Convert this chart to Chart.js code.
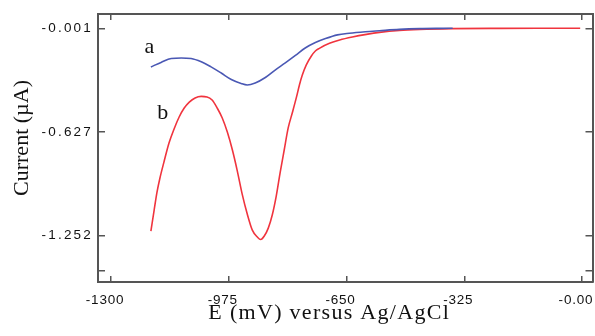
<!DOCTYPE html>
<html><head><meta charset="utf-8">
<script src="https://cdn.jsdelivr.net/npm/chart.js@4.4.1/dist/chart.umd.min.js"></script>
<style>html,body{margin:0;padding:0;background:#fff;overflow:hidden}</style>
</head><body>
<canvas id="c" width="595" height="336"></canvas>
<script>
// ---- data ----
const potentialA = [-1190,-1162,-1134,-1106,-1079,-1051,-1024,-996,-968,-941,-924,-902,-874,-847,-819,-791,-764,-736,-708,-675,-642,-598,-559,-504,-448,-393,-357];
const currentA   = [-0.234,-0.207,-0.183,-0.180,-0.183,-0.203,-0.234,-0.271,-0.310,-0.334,-0.343,-0.331,-0.298,-0.253,-0.210,-0.165,-0.120,-0.087,-0.063,-0.041,-0.031,-0.022,-0.016,-0.008,-0.0034,-0.0016,-0.001];
const potentialB = [-1190,-1181,-1173,-1165,-1154,-1140,-1126,-1112,-1098,-1084,-1068,-1051,-1035,-1021,-1007,-993,-979,-965,-952,-938,-924,-910,-896,-887,-877,-866,-855,-844,-833,-822,-811,-799,-788,-780,-772,-761,-747,-736,-725,-697,-669,-634,-595,-559,-504,-448,-357,-227,-5];
const currentB   = [-1.224,-1.097,-0.988,-0.904,-0.808,-0.693,-0.608,-0.536,-0.482,-0.446,-0.421,-0.412,-0.415,-0.434,-0.482,-0.542,-0.627,-0.735,-0.856,-1.001,-1.121,-1.218,-1.260,-1.275,-1.254,-1.206,-1.127,-1.013,-0.868,-0.735,-0.602,-0.506,-0.415,-0.343,-0.283,-0.222,-0.168,-0.138,-0.122,-0.092,-0.072,-0.054,-0.038,-0.026,-0.014,-0.008,-0.0034,-0.0016,-0.001];
const xTickValues = [-1300,-975,-650,-325,0];
const xTickLabels = ['-1300','-975','-650','-325','-0.00'];
const yTickValues = [-0.001,-0.627,-1.252,-1.463];
const yTickLabels = ['-0.001','-0.627','-1.252',''];
const curveNames  = ['a','b'];

// ---- styling ----
const AXIS = '#555';
const X_MIN = -1336, X_MAX = 29, Y_MIN = -1.531, Y_MAX = 0.085;
const SANS = '"Liberation Sans", Arial, sans-serif';
const SERIF = '"Liberation Serif", "Times New Roman", serif';

function toPoints(xs, ys){ return xs.map((x,i)=>({x:x, y:ys[i]})); }
function setTicks(values){ return s => { s.ticks = values.map(v=>({value:v})); }; }
function fitBox(w, h){
  return s => {
    if (w !== null) s.width = w;
    if (h !== null) s.height = h;
    s.paddingLeft = s.paddingRight = s.paddingTop = s.paddingBottom = 0;
  };
}

// text tweaks: letter spacing for labels, shift for titles
const textStyle = {
  x:  {labels:'0.8px', title:'1.3px', dx:-16, dy:0},
  y:  {labels:'2.2px', title:'0px',   dx:0,   dy:-10}
};
const textPlugin = {
  id:'textTweaks',
  beforeDraw(chart){
    for (const id of Object.keys(textStyle)) {
      const s = chart.scales[id];
      if (!s || s._tw) continue;
      s._tw = true;
      const st = textStyle[id];
      const dl = s.drawLabels.bind(s), dt = s.drawTitle.bind(s);
      s.drawLabels = function(a){ const c=chart.ctx; c.save(); c.letterSpacing=st.labels; dl(a); c.restore(); };
      s.drawTitle = function(){ const c=chart.ctx; c.save(); c.letterSpacing=st.title; c.translate(st.dx, st.dy); dt(); c.restore(); };
    }
  }
};
const curveLabelPlugin = {
  id:'curveLabels',
  afterDatasetsDraw(chart, args, opts){
    const c = chart.ctx, xs = chart.scales.x, ys = chart.scales.y;
    c.save();
    c.font = '22px ' + SERIF; c.fillStyle = '#111'; c.textAlign = 'center'; c.textBaseline = 'alphabetic';
    opts.items.forEach(it => c.fillText(it.text, xs.getPixelForValue(it.x), ys.getPixelForValue(it.y)));
    c.restore();
  }
};

new Chart(document.getElementById('c'), {
  type:'line',
  data:{ datasets:[
    {label:curveNames[0], data:toPoints(potentialA,currentA), borderColor:'#4a58b4', borderWidth:1.6, pointRadius:0, cubicInterpolationMode:'monotone', fill:false},
    {label:curveNames[1], data:toPoints(potentialB,currentB), borderColor:'#f0343e', borderWidth:1.6, pointRadius:0, cubicInterpolationMode:'monotone', fill:false}
  ]},
  plugins:[textPlugin, curveLabelPlugin],
  options:{
    responsive:false, animation:false, devicePixelRatio:1,
    layout:{ autoPadding:false, padding:{top:14, right:2.5, left:0, bottom:0} },
    plugins:{
      legend:{display:false}, tooltip:{enabled:false},
      curveLabels:{ items:[ {text:curveNames[0], x:-1194, y:-0.148}, {text:curveNames[1], x:-1157, y:-0.548} ] }
    },
    scales:{
      x:{ type:'linear', position:'bottom', min:X_MIN, max:X_MAX,
        afterBuildTicks:setTicks(xTickValues), afterFit:fitBox(null, 54),
        grid:{ drawOnChartArea:false, drawTicks:true, tickLength:-6, color:AXIS, lineWidth:1.5 },
        border:{ display:true, color:AXIS, width:2 },
        ticks:{ autoSkip:false, maxRotation:0, padding:16, labelOffset:-6, color:'#111',
          font:{family:SANS, size:13.5}, callback:v=>xTickLabels[xTickValues.indexOf(v)] },
        title:{ display:true, text:'E (mV) versus Ag/AgCl', color:'#111', font:{family:SERIF, size:22}, padding:{top:0, bottom:10} }
      },
      x2:{ type:'linear', position:'top', min:X_MIN, max:X_MAX,
        afterBuildTicks:setTicks(xTickValues), afterFit:fitBox(null, 0),
        grid:{ drawOnChartArea:false, drawTicks:true, tickLength:-6, color:AXIS, lineWidth:1.5 },
        border:{ display:true, color:AXIS, width:2 },
        ticks:{ display:false }
      },
      y:{ type:'linear', position:'left', min:Y_MIN, max:Y_MAX,
        afterBuildTicks:setTicks(yTickValues), afterFit:fitBox(98, null),
        grid:{ drawOnChartArea:false, drawTicks:true, tickLength:-7, color:AXIS, lineWidth:1.5 },
        border:{ display:true, color:AXIS, width:2 },
        ticks:{ autoSkip:false, padding:12, color:'#111', font:{family:SANS, size:13.5},
          callback:v=>yTickLabels[yTickValues.indexOf(v)] },
        title:{ display:true, text:'Current (µA)', color:'#111', font:{family:SERIF, size:22}, padding:{top:9, bottom:0} }
      },
      y2:{ type:'linear', position:'right', min:Y_MIN, max:Y_MAX,
        afterBuildTicks:setTicks(yTickValues), afterFit:fitBox(0, null),
        grid:{ drawOnChartArea:false, drawTicks:true, tickLength:-7, color:AXIS, lineWidth:1.5 },
        border:{ display:true, color:AXIS, width:2 },
        ticks:{ display:false }
      }
    }
  }
});
</script>
</body></html>
